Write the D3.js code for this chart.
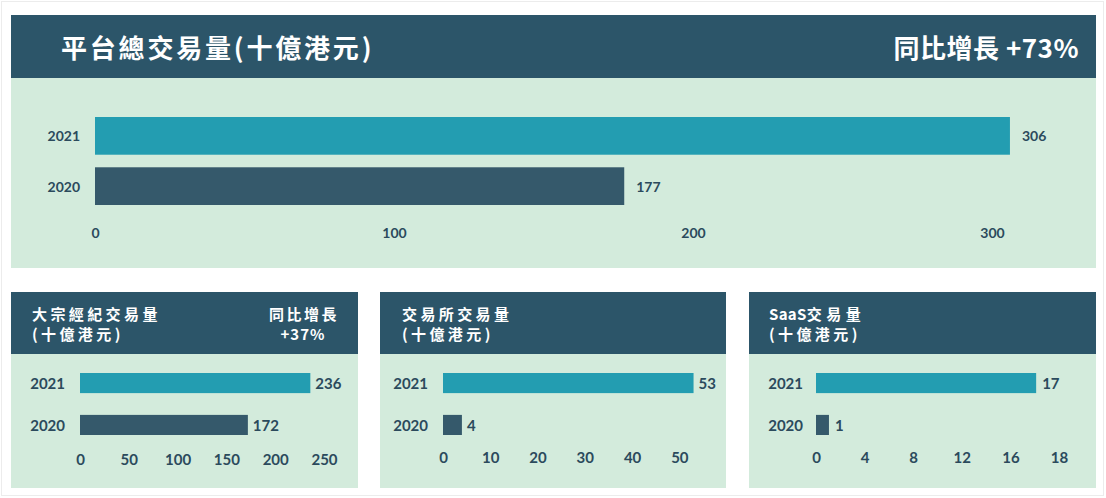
<!DOCTYPE html>
<html>
  <head>
    <meta charset="utf-8">
    <title>平台總交易量</title>
    <script src="https://d3js.org/d3.v7.min.js"></script>
    <style>
      body { margin: 0; background: #fff; }
      .title { fill: #fff; font-family: "Noto Sans CJK TC", sans-serif; font-weight: 700; }
      .year, .value, .axis .tick text {
        fill: #2b4a5c;
        font-family: Lato, "Noto Sans", sans-serif;
        font-weight: 700;
      }
    </style>
  </head>
  <body>
    <svg width="1106" height="498"></svg>

    <script>
      const years = ["2021", "2020"];
      const totalGmv = [306, 177];
      const brokerGmv = [236, 172];
      const exchangeGmv = [53, 4];
      const saasGmv = [17, 1];
      const totalTicks = [0, 100, 200, 300];
      const brokerTicks = [0, 50, 100, 150, 200, 250];
      const exchangeTicks = [0, 10, 20, 30, 40, 50];
      const saasTicks = [0, 4, 8, 12, 16, 18];

      const colors = {
        header: "#2c5569",
        body: "#d3ebdc",
        bar2021: "#239db1",
        bar2020: "#35596b"
      };

      function panel(svg, p) {
        const g = svg.append("g");

        g.append("rect")
            .attr("x", p.x0).attr("y", p.y0)
            .attr("width", p.x1 - p.x0).attr("height", p.yBody - p.y0)
            .attr("fill", colors.header);
        g.append("rect")
            .attr("x", p.x0).attr("y", p.yBody)
            .attr("width", p.x1 - p.x0).attr("height", p.y1 - p.yBody)
            .attr("fill", colors.body);

        // header texts, each may be split into parts with their own spacing
        p.titles.forEach(t => {
          const txt = g.append("text")
              .attr("class", "title")
              .attr("x", t.x).attr("y", t.y)
              .attr("text-anchor", t.anchor || "start")
              .attr("dominant-baseline", "central")
              .style("font-size", t.size + "px");
          const parts = t.parts || [[t.text, t.spacing || 0]];
          parts.forEach(([s, sp]) => {
            txt.append("tspan").style("letter-spacing", sp + "px").text(s);
          });
        });

        const x = d3.scaleLinear().domain(p.domain).range(p.range);
        const y = d3.scaleBand().domain(years).range(p.yRange).paddingInner(p.pad);
        const data = years.map((yr, i) => ({ year: yr, value: p.values[i] }));

        g.selectAll(".bar").data(data).join("rect")
            .attr("class", "bar")
            .attr("x", x(0))
            .attr("y", d => y(d.year))
            .attr("width", d => x(d.value) - x(0))
            .attr("height", y.bandwidth())
            .attr("fill", d => d.year === "2021" ? colors.bar2021 : colors.bar2020);

        g.selectAll(".year").data(data).join("text")
            .attr("class", "year")
            .attr("x", x(0) - p.labelGap)
            .attr("y", d => y(d.year) + y.bandwidth() / 2)
            .attr("text-anchor", "end")
            .attr("dominant-baseline", "central")
            .style("font-size", p.fontSize + "px")
            .text(d => d.year);

        g.selectAll(".value").data(data).join("text")
            .attr("class", "value")
            .attr("x", d => x(d.value) + p.valueGap)
            .attr("y", d => y(d.year) + y.bandwidth() / 2)
            .attr("dominant-baseline", "central")
            .style("font-size", p.fontSize + "px")
            .text(d => d.value);

        // the SaaS panel's tick labels sit evenly spaced, whatever their values
        const axisScale = p.tickRange
          ? d3.scalePoint().domain(p.ticks).range(p.tickRange)
          : x;
        const axis = g.append("g")
            .attr("class", "axis")
            .attr("transform", `translate(0, ${p.axisY})`)
            .call(d3.axisBottom(axisScale).tickValues(p.ticks).tickSize(0).tickPadding(0));
        axis.select(".domain").remove();
        axis.selectAll(".tick text")
            .attr("y", 0)
            .attr("dy", null)
            .attr("dominant-baseline", "central")
            .style("font-size", p.fontSize + "px");
      }

      function main() {
        const svg = d3.select("svg");

        svg.append("rect")
            .attr("x", 1.5).attr("y", 1.5)
            .attr("width", 1102).attr("height", 494)
            .attr("fill", "none")
            .attr("stroke", "#ececec");

        panel(svg, {
          x0: 11, x1: 1096, y0: 15, yBody: 78, y1: 268,
          titles: [
            { text: "平台總交易量(十億港元)", x: 61, y: 46, size: 26, spacing: 2.8 },
            { text: "同比增長 +73%", x: 1079, y: 46, size: 26, spacing: 0.5, anchor: "end" }
          ],
          values: totalGmv, ticks: totalTicks,
          domain: [0, 300], range: [95, 992],
          yRange: [117, 205], pad: 0.25,
          labelGap: 15, valueGap: 12, axisY: 232, fontSize: 14
        });

        panel(svg, {
          x0: 11, x1: 358, y0: 292, yBody: 354, y1: 488,
          titles: [
            { text: "大宗經紀交易量", x: 32, y: 313, size: 15, spacing: 3.4 },
            { text: "(十億港元)", x: 32, y: 333, size: 15, spacing: 3.4 },
            { text: "同比增長", x: 339, y: 313, size: 15, spacing: 2.5, anchor: "end" },
            { text: "+37%", x: 303, y: 333, size: 15, spacing: 1, anchor: "middle" }
          ],
          values: brokerGmv, ticks: brokerTicks,
          domain: [0, 250], range: [80, 324],
          yRange: [373, 435], pad: 0.52,
          labelGap: 15, valueGap: 5, axisY: 459, fontSize: 15
        });

        panel(svg, {
          x0: 380, x1: 726, y0: 292, yBody: 354, y1: 488,
          titles: [
            { text: "交易所交易量", x: 402, y: 313, size: 15, spacing: 3.4 },
            { text: "(十億港元)", x: 402, y: 333, size: 15, spacing: 3.4 }
          ],
          values: exchangeGmv, ticks: exchangeTicks,
          domain: [0, 55], range: [443, 703],
          yRange: [373, 435], pad: 0.52,
          labelGap: 15, valueGap: 5, axisY: 457, fontSize: 15
        });

        panel(svg, {
          x0: 749, x1: 1096, y0: 292, yBody: 354, y1: 488,
          titles: [
            { parts: [["SaaS", 0.3], ["交易量", 4.5]], x: 769, y: 313, size: 15 },
            { text: "(十億港元)", x: 769, y: 333, size: 15, spacing: 3.4 }
          ],
          values: saasGmv, ticks: saasTicks,
          domain: [0, 20], range: [816, 1075],
          tickRange: [816, 1059],
          yRange: [373, 435], pad: 0.52,
          labelGap: 13, valueGap: 6, axisY: 457, fontSize: 15
        });
      }
      main();
    </script>
  </body>
</html>
